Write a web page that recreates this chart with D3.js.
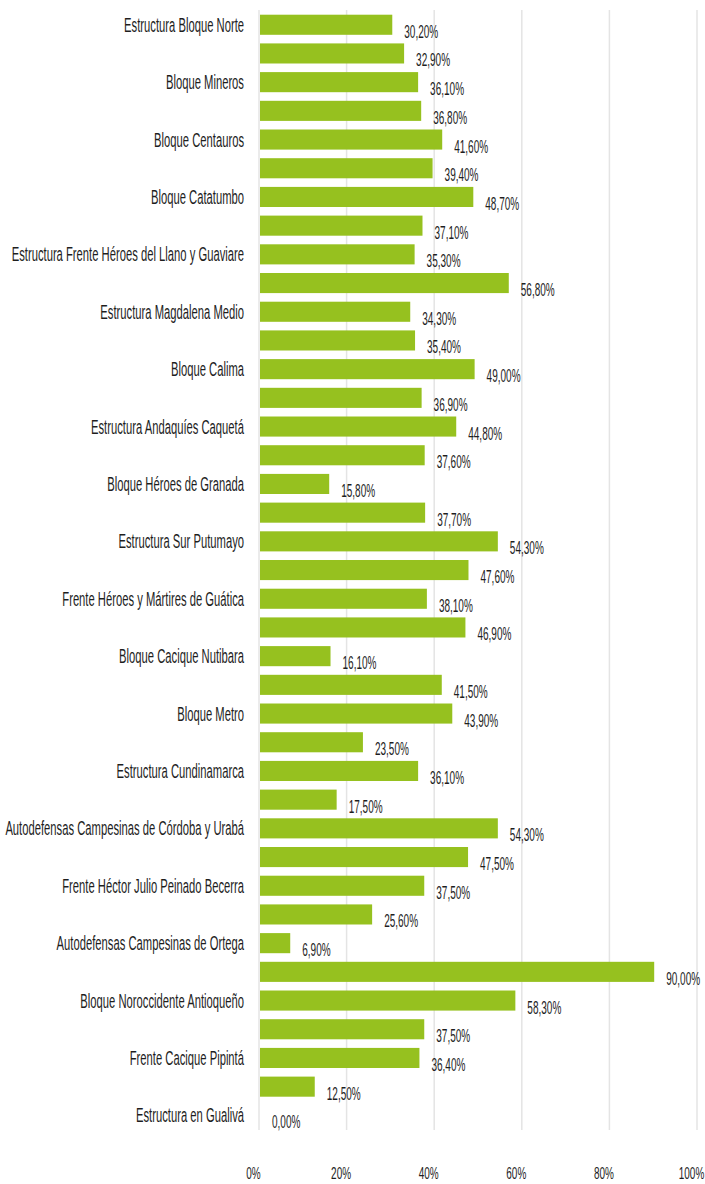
<!DOCTYPE html>
<html>
<head>
<meta charset="utf-8">
<script src="https://cdn.jsdelivr.net/npm/d3@7"></script>
<style>
  html, body { margin: 0; padding: 0; background: #fff; }
  svg { display: block; }
  text { font-family: "Liberation Sans", Arial, Helvetica, sans-serif; fill: #1e1e1e; }
</style>
</head>
<body>
<svg id="chart" width="705" height="1184"></svg>
<script>
// Category labels (only every other one is printed in the original chart)
const categories = [
  "Estructura Bloque Norte", "",
  "Bloque Mineros", "",
  "Bloque Centauros", "",
  "Bloque Catatumbo", "",
  "Estructura Frente Héroes del Llano y Guaviare", "",
  "Estructura Magdalena Medio", "",
  "Bloque Calima", "",
  "Estructura Andaquíes Caquetá", "",
  "Bloque Héroes de Granada", "",
  "Estructura Sur Putumayo", "",
  "Frente Héroes y Mártires de Guática", "",
  "Bloque Cacique Nutibara", "",
  "Bloque Metro", "",
  "Estructura Cundinamarca", "",
  "Autodefensas Campesinas de Córdoba y Urabá", "",
  "Frente Héctor Julio Peinado Becerra", "",
  "Autodefensas Campesinas de Ortega", "",
  "Bloque Noroccidente Antioqueño", "",
  "Frente Cacique Pipintá", "",
  "Estructura en Gualivá"
];
const values = [
  30.2, 32.9, 36.1, 36.8, 41.6, 39.4, 48.7, 37.1, 35.3, 56.8,
  34.3, 35.4, 49.0, 36.9, 44.8, 37.6, 15.8, 37.7, 54.3, 47.6,
  38.1, 46.9, 16.1, 41.5, 43.9, 23.5, 36.1, 17.5, 54.3, 47.5,
  37.5, 25.6, 6.9, 90.0, 58.3, 37.5, 36.4, 12.5, 0.0
];
const tickValues = [0, 20, 40, 60, 80, 100];
const tickLabels = ["0%", "20%", "40%", "60%", "80%", "100%"];

const svg = d3.select("#chart");
const x = d3.scaleLinear().domain([0, 100]).range([259, 697]);
const y = d3.scaleBand().domain(d3.range(values.length)).range([10.4, 1129.7]).paddingInner(0.3).paddingOuter(0.15);

const fmt = v => v.toFixed(2).replace(".", ",") + "%";

// horizontal condensing factors, calibrated on measured text widths
function condense(str, size, target) {
  const p = svg.append("text").attr("font-size", size).text(str);
  const w = p.node().getComputedTextLength();
  p.remove();
  return target / w;
}
const catSize = 19.5, valSize = 18, tickSize = 16.5;
const kCat = condense("Estructura Bloque Norte", catSize, 120);
const kVal = condense("30,20%", valSize, 34);
const kTick = condense("20%", tickSize, 20);

// gridlines
svg.append("g").selectAll("line").data(tickValues).join("line")
  .attr("x1", d => x(d)).attr("x2", d => x(d))
  .attr("y1", 10).attr("y2", 1130)
  .attr("stroke", "#e4e4e4").attr("stroke-width", 1.5);

// bars
svg.append("g").selectAll("rect").data(values).join("rect")
  .attr("x", x(0) + 1)
  .attr("y", (d, i) => y(i))
  .attr("width", d => Math.max(0, x(d) - x(0)))
  .attr("height", y.bandwidth())
  .attr("fill", "#96c11f");

// category labels
svg.append("g").selectAll("text").data(categories).join("text")
  .attr("transform", (d, i) => `translate(244,${y(i) + y.bandwidth() / 2 + 7}) scale(${kCat},1)`)
  .attr("text-anchor", "end")
  .attr("font-size", catSize)
  .text(d => d);

// value labels
svg.append("g").selectAll("text").data(values).join("text")
  .attr("transform", (d, i) => `translate(${x(d) + 13},${y(i) + y.bandwidth() / 2 + 13}) scale(${kVal},1)`)
  .attr("font-size", valSize)
  .text(d => fmt(d));

// x axis labels
const axis = d3.axisBottom(x).tickValues(tickValues).tickFormat((d, i) => tickLabels[i]).tickSize(0).tickPadding(0);
const ag = svg.append("g").attr("transform", "translate(-6,1179)").call(axis);
ag.select(".domain").remove();
ag.selectAll(".tick text")
  .attr("y", 0).attr("dy", null)
  .attr("font-size", tickSize)
  .attr("font-family", null)
  .attr("fill", "#1e1e1e")
  .attr("transform", `scale(${kTick},1)`);
</script>
</body>
</html>
